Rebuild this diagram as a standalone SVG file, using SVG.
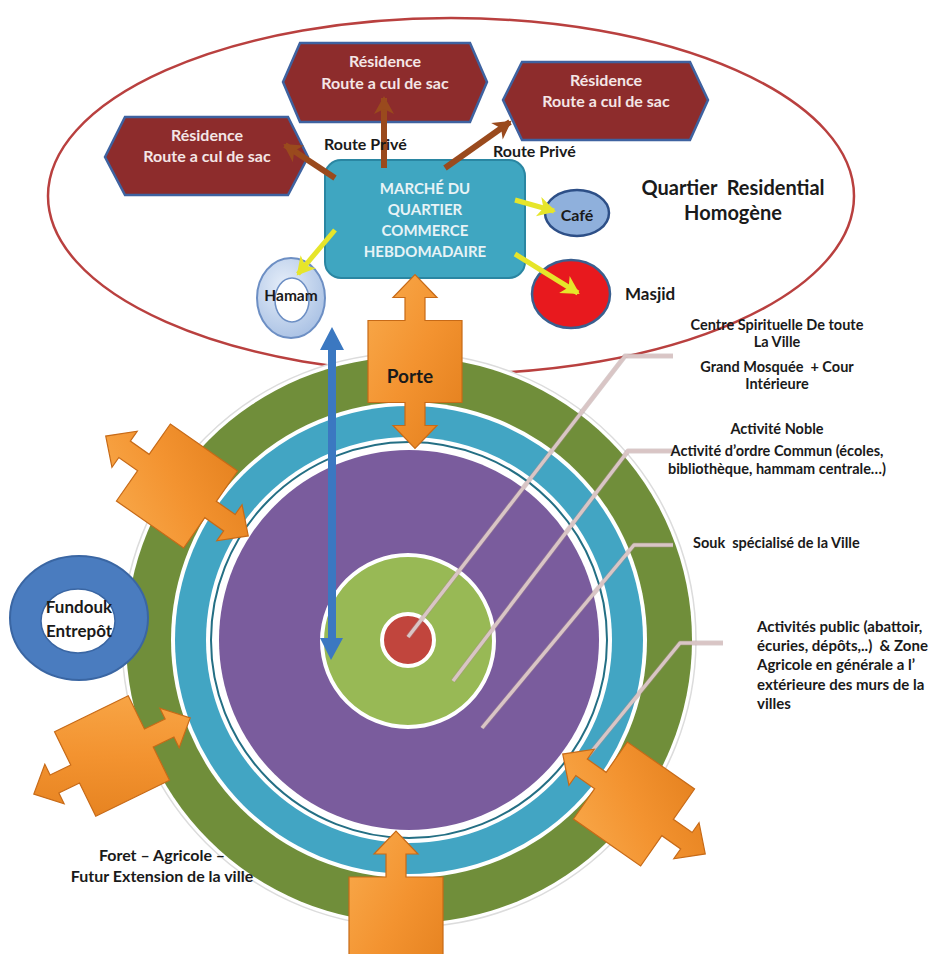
<svg xmlns="http://www.w3.org/2000/svg" xmlns:xlink="http://www.w3.org/1999/xlink" width="930" height="954" viewBox="0 0 930 954">
<style>
  text{font-family:Lato,"Liberation Sans","DejaVu Sans",sans-serif;font-weight:bold;}
  .dark{fill:#1a1a1a;}
  .hexT{fill:#f4e6e6;font-size:16px;text-anchor:middle;}
  .hex{fill:#8d2c2c;stroke:#3e62a0;stroke-width:2.5;}
  .mkT{fill:#e8f3f6;font-size:15px;text-anchor:middle;}
  .lbl{font-size:14.5px;text-anchor:middle;fill:#1a1a1a;}
  .brown{stroke:#9a4a1d;stroke-width:6;fill:none;marker-end:url(#mBrown);}
  .yellow{stroke:#e6e52a;stroke-width:5;fill:none;marker-end:url(#mYellow);}
  .leader{fill:none;stroke:#d9c5c5;stroke-width:3.5;stroke-linejoin:round;}
  .leaderS{fill:none;stroke:#a99090;stroke-width:5;stroke-linejoin:round;opacity:0.45;}
  .gate{fill:url(#gOrange);stroke:#c76a17;stroke-width:1.2;}
</style>
<defs>
  <marker id="mBrown" markerUnits="userSpaceOnUse" markerWidth="24" markerHeight="24" refX="18" refY="12" orient="auto">
    <path d="M2,2 L20,12 L2,22 L7,12 Z" fill="#9a4a1d"/>
  </marker>
  <marker id="mYellow" markerUnits="userSpaceOnUse" markerWidth="24" markerHeight="24" refX="18" refY="12" orient="auto">
    <path d="M2,2 L20,12 L2,22 L7,12 Z" fill="#e6e52a"/>
  </marker>
  <linearGradient id="gOrange" x1="0" y1="0" x2="1" y2="1">
    <stop offset="0" stop-color="#f9ab4d"/>
    <stop offset="0.5" stop-color="#f39330"/>
    <stop offset="1" stop-color="#e27e1c"/>
  </linearGradient>
  <radialGradient id="gHamam" cx="0.4" cy="0.35" r="0.7">
    <stop offset="0" stop-color="#e6eef9"/>
    <stop offset="1" stop-color="#a9c1e4"/>
  </radialGradient>
  <path id="gateShape" class="gate" d="M-10,-41 L-10,-64 L-22,-64 L0,-87 L22,-64 L10,-64 L10,-41 L47,-41 L47,41 L10,41 L10,64 L22,64 L0,87 L-22,64 L-10,64 L-10,41 L-47,41 L-47,-41 Z"/>
</defs>
<rect width="930" height="954" fill="#ffffff"/>

<!-- Residential quarter boundary -->
<g id="quartier">
  <ellipse cx="451" cy="196" rx="403" ry="178" fill="none" stroke="#b9403f" stroke-width="2.5"/>
</g>

<!-- City rings -->
<g id="city">
  <circle cx="409" cy="640" r="287" fill="#ffffff" stroke="#dcdcdc" stroke-width="1.5"/>
  <circle cx="409" cy="640" r="283" fill="#708e3a"/>
  <circle cx="409" cy="640" r="238" fill="#ffffff"/>
  <circle cx="409" cy="640" r="234" fill="#42a5c3"/>
  <circle cx="409" cy="640" r="203" fill="#ffffff"/>
  <circle cx="409" cy="640" r="198" fill="none" stroke="#246f84" stroke-width="2"/>
  <circle cx="409" cy="640" r="190" fill="#7a5c9d"/>
  <circle cx="408" cy="641" r="86" fill="#98b955" stroke="#ffffff" stroke-width="4"/>
  <circle cx="408" cy="640" r="26" fill="#c1453d" stroke="#ffffff" stroke-width="4"/>
</g>

<!-- Nodes -->
<g id="res-left">
  <polygon class="hex" points="105,157 125,117 288,117 308,157 288,195 125,195"/>
  <text class="hexT" x="207" y="141">Résidence</text>
  <text class="hexT" x="207" y="162">Route a cul de sac</text>
</g>
<g id="res-top">
  <polygon class="hex" points="283,82 300,43 470,43 487,82 470,122 300,122"/>
  <text class="hexT" x="385" y="67">Résidence</text>
  <text class="hexT" x="385" y="89">Route a cul de sac</text>
</g>
<g id="res-right">
  <polygon class="hex" points="503,100 522,62 690,62 708,100 690,140 522,140"/>
  <text class="hexT" x="606" y="86">Résidence</text>
  <text class="hexT" x="606" y="107">Route a cul de sac</text>
</g>
<g id="marche">
  <rect x="325" y="160" width="200" height="118" rx="16" fill="#3fa6c1" stroke="#2a86a2" stroke-width="2"/>
  <text class="mkT" x="425" y="194">MARCHÉ DU</text>
  <text class="mkT" x="425" y="215">QUARTIER</text>
  <text class="mkT" x="425" y="236">COMMERCE</text>
  <text class="mkT" x="425" y="257">HEBDOMADAIRE</text>
</g>
<g id="cafe">
  <ellipse cx="577" cy="213" rx="32" ry="23" fill="#8fb0dc" stroke="#2d4f87" stroke-width="2.5"/>
  <text class="dark" x="577" y="221" font-size="16" text-anchor="middle">Café</text>
</g>
<g id="masjid">
  <ellipse cx="571" cy="294" rx="39" ry="34" fill="#e8191e" stroke="#3a5f8f" stroke-width="2.5"/>
  <text class="dark" x="625" y="300" font-size="17">Masjid</text>
</g>
<g id="hamam">
  <ellipse cx="291" cy="298" rx="34" ry="40" fill="url(#gHamam)" stroke="#6d8fc4" stroke-width="2"/>
  <ellipse cx="292" cy="300" rx="17" ry="22" fill="#ffffff" stroke="#6d8fc4" stroke-width="1.5"/>
  <text class="dark" x="291" y="301" font-size="15.5" text-anchor="middle">Hamam</text>
</g>
<g id="fundouk">
  <ellipse cx="79" cy="618" rx="69" ry="62" fill="#4a7cbf" stroke="#3a66a3" stroke-width="2"/>
  <ellipse cx="78" cy="621" rx="37" ry="32" fill="#ffffff" stroke="#3a66a3" stroke-width="1.5"/>
  <text class="dark" x="79" y="613" font-size="17" text-anchor="middle">Fundouk</text>
  <text class="dark" x="79" y="637" font-size="17" text-anchor="middle">Entrepôt</text>
</g>

<!-- Connectors -->
<g id="connectors">
  <polyline class="leaderS" points="408,637 625,356 673,356"/>
  <polyline class="leader" points="408,637 625,356 673,356"/>
  <polyline class="leaderS" points="453,681 628,451 673,451"/>
  <polyline class="leader" points="453,681 628,451 673,451"/>
  <polyline class="leaderS" points="482,728 634,545 673,545"/>
  <polyline class="leader" points="482,728 634,545 673,545"/>
  <polyline class="leaderS" points="588,756 680,643 723,643"/>
  <polyline class="leader" points="588,756 680,643 723,643"/>
  <line class="brown" x1="335" y1="178" x2="285" y2="145"/>
  <line class="brown" x1="384" y1="168" x2="384" y2="98"/>
  <line class="brown" x1="445" y1="168" x2="510" y2="122"/>
  <line class="yellow" x1="515" y1="200" x2="554" y2="211"/>
  <line class="yellow" x1="335" y1="230" x2="298" y2="274"/>
  <line class="yellow" x1="515" y1="254" x2="578" y2="293"/>
  <polygon id="blue-arrow" fill="#3b78c1" points="332,327 344,350 336,350 336,638 343,638 331,660 320,638 328,638 328,350 320,350"/>
</g>

<!-- Gates -->
<g id="gate-porte" transform="translate(415,361.5)"><use xlink:href="#gateShape"/></g>
<g id="gate-bottom" transform="translate(396,918)"><use xlink:href="#gateShape"/></g>
<g id="gate-nw" transform="translate(177,486) rotate(-55)"><use xlink:href="#gateShape"/></g>
<g id="gate-sw" transform="translate(112,756) rotate(64)"><use xlink:href="#gateShape"/></g>
<g id="gate-se" transform="translate(634,804) rotate(-55)"><use xlink:href="#gateShape"/></g>

<!-- Labels -->
<g id="labels">
  <text class="dark" x="410" y="383" font-size="19" text-anchor="middle">Porte</text>
  <text class="dark" x="324" y="150" font-size="16">Route Privé</text>
  <text class="dark" x="493" y="157" font-size="16">Route Privé</text>
  <text class="dark" x="733" y="195" font-size="20" text-anchor="middle" xml:space="preserve">Quartier  Residential</text>
  <text class="dark" x="733" y="220" font-size="20" text-anchor="middle">Homogène</text>
  <text class="lbl" x="777" y="330">Centre Spirituelle De toute</text>
  <text class="lbl" x="777" y="347">La Ville</text>
  <text class="lbl" x="777" y="372" xml:space="preserve">Grand Mosquée  + Cour</text>
  <text class="lbl" x="777" y="389">Intérieure</text>
  <text class="lbl" x="777" y="434">Activité Noble</text>
  <text class="lbl" x="777" y="456">Activité d’ordre Commun (écoles,</text>
  <text class="lbl" x="777" y="474">bibliothèque, hammam centrale…)</text>
  <text class="dark" x="693" y="548" font-size="14.5" xml:space="preserve">Souk  spécialisé de la Ville</text>
  <text class="dark" x="757" y="632" font-size="15">Activités public (abattoir,</text>
  <text class="dark" x="757" y="651" font-size="15" xml:space="preserve">écuries, dépôts,..)  &amp; Zone</text>
  <text class="dark" x="757" y="670" font-size="15">Agricole en générale a l’</text>
  <text class="dark" x="757" y="690" font-size="15">extérieure des murs de la</text>
  <text class="dark" x="757" y="709" font-size="15">villes</text>
  <text class="dark" x="162" y="861" font-size="16" text-anchor="middle">Foret – Agricole –</text>
  <text class="dark" x="162" y="882" font-size="16" text-anchor="middle">Futur Extension de la ville</text>
</g>
</svg>
